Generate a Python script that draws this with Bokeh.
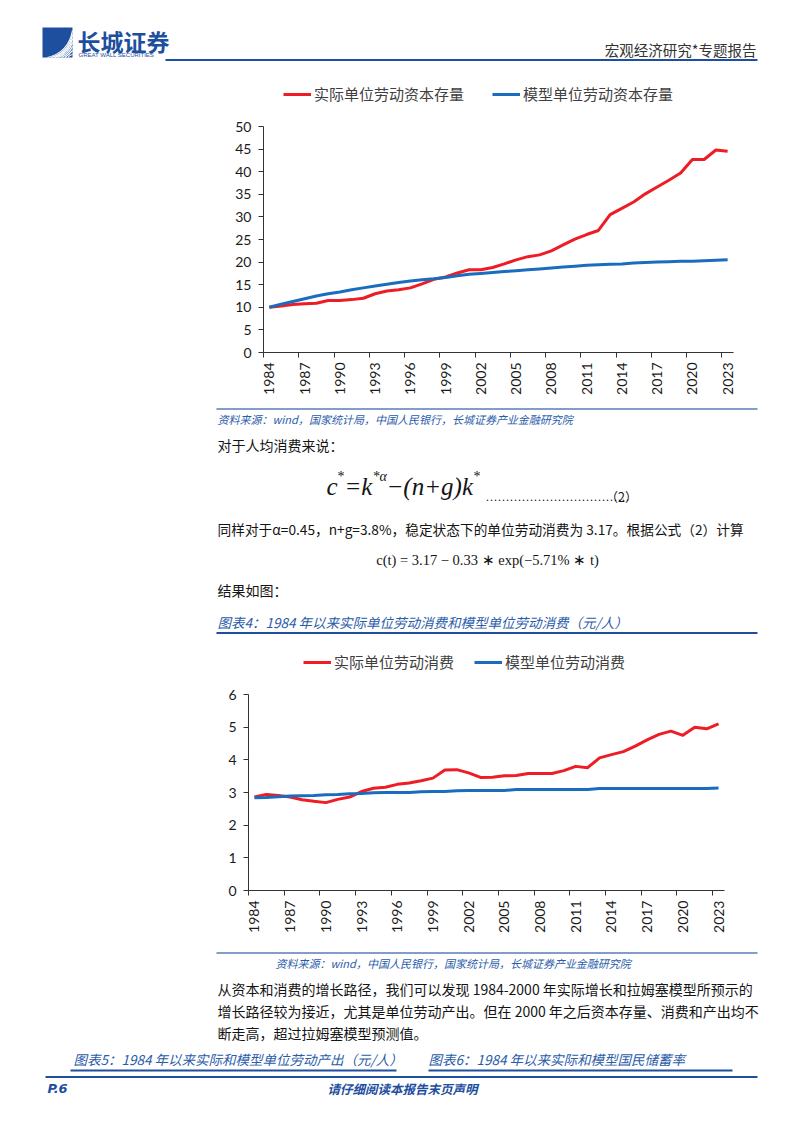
import math
from bokeh.plotting import figure
from bokeh.models import Range1d, FixedTicker, Legend, LegendItem
from bokeh.layouts import column
from bokeh.embed import file_html
from bokeh.resources import INLINE
from bokeh.core.properties import value

# ---------------- data ----------------
years = list(range(1984, 2024))
capital_actual = [10.0, 10.3, 10.6, 10.8, 10.9, 11.5, 11.5, 11.7, 12.0, 13.0,
                  13.6, 13.9, 14.3, 15.2, 16.2, 16.7, 17.6, 18.3, 18.3, 18.8,
                  19.6, 20.5, 21.2, 21.6, 22.5, 23.8, 25.1, 26.1, 27.0, 30.5,
                  31.9, 33.3, 35.1, 36.6, 38.1, 39.7, 42.7, 42.7, 44.8, 44.5]
capital_model = [10.0, 10.7, 11.3, 11.9, 12.5, 13.0, 13.4, 13.9, 14.3, 14.7,
                 15.1, 15.5, 15.8, 16.1, 16.3, 16.6, 17.0, 17.3, 17.5, 17.7,
                 17.9, 18.1, 18.3, 18.5, 18.7, 18.9, 19.1, 19.3, 19.4, 19.5,
                 19.6, 19.8, 19.9, 20.0, 20.1, 20.2, 20.2, 20.3, 20.4, 20.5]
consumption_actual = [2.86, 2.94, 2.91, 2.86, 2.78, 2.73, 2.69, 2.79, 2.86, 3.03,
                      3.13, 3.16, 3.25, 3.29, 3.36, 3.44, 3.69, 3.70, 3.60, 3.46,
                      3.47, 3.51, 3.52, 3.58, 3.58, 3.58, 3.67, 3.80, 3.76, 4.06,
                      4.16, 4.25, 4.42, 4.61, 4.78, 4.88, 4.75, 5.00, 4.95, 5.10]
consumption_model = [2.84, 2.85, 2.87, 2.89, 2.90, 2.91, 2.93, 2.94, 2.96, 2.97,
                     2.99, 3.00, 3.00, 3.00, 3.02, 3.03, 3.03, 3.05, 3.06, 3.06,
                     3.06, 3.06, 3.09, 3.09, 3.09, 3.09, 3.09, 3.09, 3.09, 3.12,
                     3.12, 3.12, 3.12, 3.12, 3.12, 3.12, 3.12, 3.12, 3.12, 3.14]
x_tick_years = list(range(1984, 2024, 3))
x_tick_marks = [y - 0.5 for y in x_tick_years]
capital_y_ticks = [0, 5, 10, 15, 20, 25, 30, 35, 40, 45, 50]
consumption_y_ticks = [0, 1, 2, 3, 4, 5, 6]
legend_capital = ["实际单位劳动资本存量", "模型单位劳动资本存量"]
legend_consumption = ["实际单位劳动消费", "模型单位劳动消费"]

# ---------------- styles ----------------
W = 786
CJK = "Noto Sans CJK SC"
SERIF = "Liberation Serif"
NUM = "Lato"
NAVY = "#1E4E9E"
CAP = "#2A5CAA"
RED = "#EE1C25"
LBLUE = "#1A6DBE"
INK = "#141414"


def band(top, bottom):
    p = figure(width=W, height=bottom - top, x_range=Range1d(0, W),
               y_range=Range1d(bottom, top), x_axis_type=None, y_axis_type=None,
               output_backend="svg", toolbar_location=None, min_border=0, title=None,
               frame_align=False)
    p.grid.visible = False
    p.outline_line_color = None
    p.background_fill_color = "white"
    p.border_fill_color = "white"
    return p


def T(p, x, y, s, size, color=INK, font=CJK, style="normal", align="left", baseline="middle"):
    p.text(x=[x], y=[y], text=[s], text_font=value(font), text_font_size=f"{size}px",
           text_color=color, text_font_style=style, text_align=align, text_baseline=baseline)


def L(p, x0, y0, x1, y1, color=NAVY, w=2.0):
    p.segment(x0=[x0], y0=[y0], x1=[x1], y1=[y1], line_color=color, line_width=w)


def chart(band_top, band_bottom, y_top, axis_top_px, axis_bottom_px, y_ticks,
          left_px, right_px, ya, yb, labels, leg_loc, leg_spacing):
    # frame spans from band_top+5 down to the x axis; the y axis itself only
    # covers 0..y_top (axis_top_px..axis_bottom_px), the space above holds the legend
    frame_top = band_top + 5
    frame_h = axis_bottom_px - frame_top
    y_end = y_top * frame_h / (axis_bottom_px - axis_top_px)
    p = figure(width=W, height=band_bottom - band_top, x_range=Range1d(1983.5, 2023.5),
               y_range=Range1d(0, y_end), output_backend="svg", toolbar_location=None,
               min_border_left=left_px, min_border_right=W - right_px, min_border_top=5,
               min_border_bottom=band_bottom - axis_bottom_px, title=None, frame_align=False)
    p.grid.visible = False
    p.outline_line_color = None
    p.background_fill_color = "white"
    p.border_fill_color = "white"
    r1 = p.line(years, ya, line_color=RED, line_width=3, line_join="round")
    r2 = p.line(years, yb, line_color=LBLUE, line_width=3, line_join="round")

    xa = p.xaxis[0]
    xa.ticker = FixedTicker(ticks=x_tick_years, minor_ticks=x_tick_marks)
    xa.major_tick_out = 0
    xa.major_tick_in = 0
    xa.minor_tick_out = 5
    xa.minor_tick_in = 0
    xa.minor_tick_line_color = "#333333"
    xa.major_label_orientation = math.pi / 2
    xa.major_label_standoff = 5

    ya_ax = p.yaxis[0]
    ya_ax.ticker = FixedTicker(ticks=y_ticks)
    ya_ax.bounds = (0, y_top)
    ya_ax.major_tick_out = 5
    ya_ax.major_tick_in = 0
    ya_ax.minor_tick_out = 0
    ya_ax.minor_tick_in = 0
    ya_ax.major_label_standoff = 7

    for ax in (xa, ya_ax):
        ax.axis_line_color = "#333333"
        ax.major_tick_line_color = "#333333"
        ax.major_label_text_font = NUM
        ax.major_label_text_font_size = "14px"
        ax.major_label_text_color = "#1a1a1a"

    leg = Legend(items=[LegendItem(label=labels[0], renderers=[r1]),
                        LegendItem(label=labels[1], renderers=[r2])],
                 orientation="horizontal", location=leg_loc,
                 glyph_width=28, glyph_height=18, label_height=18, label_standoff=3,
                 spacing=leg_spacing, padding=0, margin=0,
                 border_line_color=None, background_fill_alpha=0,
                 label_text_font=CJK, label_text_font_size="15px",
                 label_text_color="#404040")
    p.add_layout(leg)
    return p


# ---------------- header (page y 0..75) ----------------
hdr = band(0, 75)
hdr.quad(left=[42], right=[72], top=[27], bottom=[57], fill_color=NAVY, line_color=None)
for i in range(7):
    hdr.quadratic(x0=[47 + 3.5 * i], y0=[57], x1=[72], y1=[30 + 4 * i],
                  cx=[68], cy=[52 + 0.5 * i], line_color="white", line_width=1.2)
T(hdr, 77, 40, "长城证券", 23, color=NAVY, style="bold")
T(hdr, 78, 54.5, "GREAT WALL SECURITIES", 6, color=NAVY, font="Liberation Sans")
T(hdr, 756, 49, "宏观经济研究*专题报告", 14.5, color="#333333", align="right")
L(hdr, 165, 59.5, 757, 59.5, NAVY, 2)

# ---------------- chart 1 (page y 75..405) ----------------
c1 = chart(75, 405, 50, 126, 352, capital_y_ticks, 263, 733,
           capital_actual, capital_model, legend_capital, (20, 248), 28)

# ---------------- middle text (page y 405..645) ----------------
mid = band(405, 645)
L(mid, 216, 408.5, 757, 408.5, "#5A7CB8", 1.5)
T(mid, 217, 418.5, "资料来源：wind，国家统计局，中国人民银行，长城证券产业金融研究院", 11,
  color=CAP, style="italic")
T(mid, 217, 444, "对于人均消费来说：", 14)
# formula c* = k*^a - (n+g)k*
fy = 486
T(mid, 326, fy, "c", 25, font=SERIF, style="italic", baseline="alphabetic")
T(mid, 337, fy - 10, "*", 14, font=SERIF, baseline="alphabetic")
T(mid, 344, fy, "=k", 25, font=SERIF, style="italic", baseline="alphabetic")
T(mid, 372, fy - 10, "*α", 14, font=SERIF, style="italic", baseline="alphabetic")
T(mid, 386, fy, "−(n+g)k", 25, font=SERIF, style="italic", baseline="alphabetic")
T(mid, 473, fy - 10, "*", 14, font=SERIF, baseline="alphabetic")
T(mid, 485, 496, "………………………………", 12, font=SERIF)
T(mid, 605, 496, "（2）", 12.5)
T(mid, 217, 528, "同样对于α=0.45，n+g=3.8%，稳定状态下的单位劳动消费为 3.17。根据公式（2）计算", 13.7)
T(mid, 487, 559, "c(t) = 3.17 − 0.33 ∗ exp(−5.71% ∗ t)", 14.5, font=SERIF, align="center")
T(mid, 217, 589, "结果如图：", 14)
T(mid, 217, 621, "图表4：1984 年以来实际单位劳动消费和模型单位劳动消费（元/人）", 13.5,
  color=CAP, style="italic")
L(mid, 216, 632.5, 757, 632.5, NAVY, 2)

# ---------------- chart 2 (page y 645..945) ----------------
c2 = chart(645, 945, 6, 694, 890, consumption_y_ticks, 248, 724,
           consumption_actual, consumption_model, legend_consumption, (55, 218), 20)

# ---------------- footer (page y 945..1117) ----------------
ft = band(945, 1117)
L(ft, 216, 952.5, 757, 952.5, "#5A7CB8", 1.5)
T(ft, 275, 962, "资料来源：wind，中国人民银行，国家统计局，长城证券产业金融研究院", 11,
  color=CAP, style="italic")
T(ft, 217, 988, "从资本和消费的增长路径，我们可以发现 1984-2000 年实际增长和拉姆塞模型所预示的", 14)
T(ft, 217, 1010, "增长路径较为接近，尤其是单位劳动产出。但在 2000 年之后资本存量、消费和产出均不", 14)
T(ft, 217, 1032, "断走高，超过拉姆塞模型预测值。", 14)
T(ft, 73, 1058, "图表5：1984 年以来实际和模型单位劳动产出（元/人）", 13.5, color=CAP, style="italic")
T(ft, 428, 1058, "图表6：1984 年以来实际和模型国民储蓄率", 13.5, color=CAP, style="italic")
L(ft, 70, 1070, 396, 1070, NAVY, 2)
L(ft, 428, 1070, 732, 1070, NAVY, 2)
L(ft, 45, 1076.5, 757, 1076.5, NAVY, 2)
T(ft, 47, 1088, "P.6", 13, color=NAVY, font="DejaVu Sans", style="bold italic")
T(ft, 402, 1088, "请仔细阅读本报告末页声明", 12.5, color=NAVY, style="bold italic", align="center")

page = column(hdr, c1, mid, c2, ft, spacing=0)
open("out.html", "w").write(file_html(page, INLINE))
